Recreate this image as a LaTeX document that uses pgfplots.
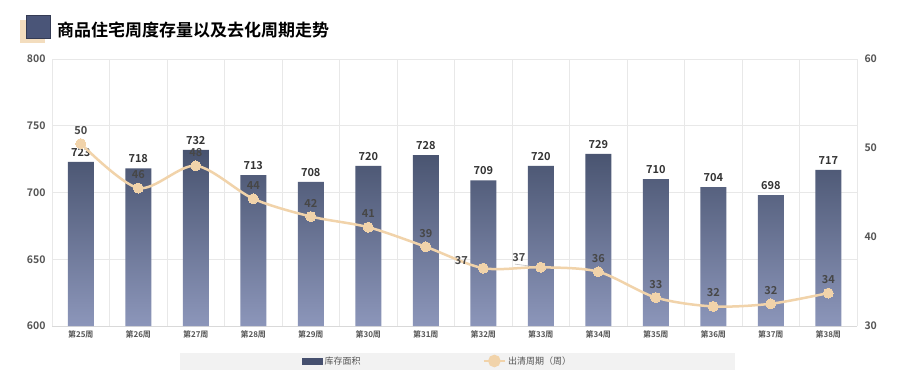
\documentclass[border=0pt]{standalone}
\usepackage{pgfplots}
\pgfplotsset{compat=1.18}
\usepackage{pgfplotstable}
\usepackage{fontspec}
\setmainfont{Noto Sans CJK SC}[BoldFont={Noto Sans CJK SC Bold}]
\definecolor{barTop}{HTML}{48536F}
\definecolor{barMid}{HTML}{46506F}
\definecolor{barBot}{HTML}{8C96BA}
\definecolor{lineC}{HTML}{F1D3AA}
\definecolor{gridC}{HTML}{E8E8E8}
\definecolor{tickC}{HTML}{555555}
\definecolor{lblC}{HTML}{333333}
\definecolor{iconDark}{HTML}{4A5578}
\definecolor{iconBeige}{HTML}{F3DDBE}
\pgfplotstableread{
x area alab cyc clab
0 723 723 50.5 50
1 718 718 45.5 46
2 732 732 48.0 48
3 713 713 44.3 44
4 708 708 42.3 42
5 720 720 41.1 41
6 728 728 38.9 39
7 709 709 36.5 37
8 720 720 36.6 37
9 729 729 36.1 36
10 710 710 33.2 33
11 704 704 32.2 32
12 698 698 32.5 32
13 717 717 33.7 34
}\data
\begin{document}
\begin{tikzpicture}
\fill[white] (0pt,0pt) rectangle (915pt,381pt);
\path[use as bounding box] (0pt,0pt) rectangle (915pt,381pt);
% title icon
\fill[iconBeige] (20pt,337.5pt) rectangle (45pt,361pt);
\fill[iconDark] (26pt,343pt) rectangle (50.5pt,366pt);
\draw[iconDark!70!black, line width=0.6pt] (26pt,343pt) rectangle (50.5pt,366pt);
\node[anchor=west, inner sep=0pt, font=\bfseries\fontsize{17}{17}\selectfont] at (57pt,351.5pt) {商品住宅周度存量以及去化周期走势};
% legend band
\fill[black!5] (180pt,11pt) rectangle (735pt,28pt);
\begin{axis}[
  at={(52pt,55pt)}, anchor=south west,
  scale only axis, width=805pt, height=267pt,
  xmin=-0.5, xmax=13.5, ymin=600, ymax=800,
  ytick={600,650,700,750,800},
  xtick={0,...,13},
  xticklabels={第25周,第26周,第27周,第28周,第29周,第30周,第31周,第32周,第33周,第34周,第35周,第36周,第37周,第38周},
  minor xtick={-0.5,0.5,...,13.5},
  xminorgrids=true, ymajorgrids=true,
  grid style={gridC, line width=0.6pt},
  minor grid style={gridC, line width=0.6pt},
  axis line style={draw=none},
  axis x line*=bottom,
  axis y line*=left,
  tick style={draw=none},
  major tick length=0pt, minor tick length=0pt,
  /pgf/number format/assume math mode=true,
  yticklabel style={font=\bfseries\fontsize{10.5}{10.5}\selectfont, text=tickC, xshift=-3pt},
  xticklabel style={font=\bfseries\fontsize{8}{8}\selectfont, text=tickC, yshift=-1pt},
  clip=false,
]
\draw[black!15, line width=0.8pt] (axis cs:-0.5,600) -- (axis cs:13.5,600);
\addplot[ybar, bar width=26pt, draw=none,
  top color=barTop, middle color=barMid, bottom color=barBot,
  nodes near coords, point meta=explicit symbolic,
  nodes near coords style={font=\bfseries\fontsize{11}{11}\selectfont, text=lblC, anchor=south, yshift=2pt}]
  table[x=x, y=area, meta=alab] {\data};
\end{axis}
\begin{axis}[
  at={(52pt,55pt)}, anchor=south west,
  scale only axis, width=805pt, height=267pt,
  xmin=-0.5, xmax=13.5, ymin=30, ymax=60,
  ytick={30,40,50,60},
  axis x line=none,
  axis y line*=right,
  axis line style={draw=none},
  tick style={draw=none},
  major tick length=0pt,
  /pgf/number format/assume math mode=true,
  yticklabel style={font=\bfseries\fontsize{10.5}{10.5}\selectfont, text=tickC, xshift=4pt},
  clip=false,
  legend style={at={(0.3106,-0.131)}, anchor=west, draw=none, fill=none, inner sep=0pt,
    font=\fontsize{9}{9}\selectfont, text=tickC,
    /tikz/every even column/.append style={column sep=120pt}},
  legend columns=2,
]
\addlegendimage{legend image code/.code={\fill[barMid] (0pt,-3pt) rectangle (20pt,3pt);}}
\addlegendentry{库存面积}
\addplot[lineC, line width=2.5pt, smooth, mark=*, mark size=5pt,
  mark options={fill=lineC, draw=lineC, line width=0pt},
  nodes near coords, point meta=explicit symbolic,
  nodes near coords style={font=\bfseries\fontsize{11}{11}\selectfont, text=black!72, anchor=south, yshift=6pt},
  coordinate style/.condition={x==0}{text=black},
  coordinate style/.condition={x==7}{anchor=east, xshift=-22pt, yshift=-6pt},
  coordinate style/.condition={x==8}{anchor=east, xshift=-22pt, yshift=-4pt},
  legend image code/.code={\draw[lineC, line width=2.5pt] (0pt,0pt) -- (21pt,0pt); \fill[lineC] (10.5pt,0pt) circle (5pt);}]
  table[x=x, y=cyc, meta=clab] {\data};
\addlegendentry{出清周期（周）}
\draw[black!25, line width=0.6pt] (axis cs:7.55,36.95) -- (axis cs:7.8,36.75);
\end{axis}
\end{tikzpicture}
\end{document}
